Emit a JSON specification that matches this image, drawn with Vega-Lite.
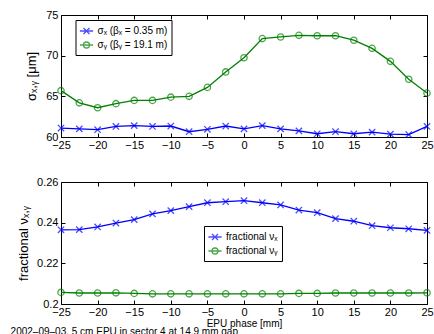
{
  "$schema": "https://vega.github.io/schema/vega-lite/v6.json",
  "background": "white",
  "padding": {"left": 10, "top": 9, "right": 0, "bottom": 0},
  "datasets": {
    "sigma": [
      {"phase": -25, "s": "x", "value": 61.1}, {"phase": -22.5, "s": "x", "value": 61.0}, {"phase": -20, "s": "x", "value": 60.9},
      {"phase": -17.5, "s": "x", "value": 61.3}, {"phase": -15, "s": "x", "value": 61.4}, {"phase": -12.5, "s": "x", "value": 61.3},
      {"phase": -10, "s": "x", "value": 61.35}, {"phase": -7.5, "s": "x", "value": 60.65}, {"phase": -5, "s": "x", "value": 60.95},
      {"phase": -2.5, "s": "x", "value": 61.35}, {"phase": 0, "s": "x", "value": 61.0}, {"phase": 2.5, "s": "x", "value": 61.4},
      {"phase": 5, "s": "x", "value": 61.0}, {"phase": 7.5, "s": "x", "value": 60.75}, {"phase": 10, "s": "x", "value": 60.4},
      {"phase": 12.5, "s": "x", "value": 60.65}, {"phase": 15, "s": "x", "value": 60.4}, {"phase": 17.5, "s": "x", "value": 60.6},
      {"phase": 20, "s": "x", "value": 60.35}, {"phase": 22.5, "s": "x", "value": 60.3}, {"phase": 25, "s": "x", "value": 61.3},
      {"phase": -25, "s": "y", "value": 65.7}, {"phase": -22.5, "s": "y", "value": 64.2}, {"phase": -20, "s": "y", "value": 63.6},
      {"phase": -17.5, "s": "y", "value": 64.1}, {"phase": -15, "s": "y", "value": 64.5}, {"phase": -12.5, "s": "y", "value": 64.5},
      {"phase": -10, "s": "y", "value": 64.9}, {"phase": -7.5, "s": "y", "value": 65.0}, {"phase": -5, "s": "y", "value": 66.1},
      {"phase": -2.5, "s": "y", "value": 68.0}, {"phase": 0, "s": "y", "value": 69.75}, {"phase": 2.5, "s": "y", "value": 72.1},
      {"phase": 5, "s": "y", "value": 72.3}, {"phase": 7.5, "s": "y", "value": 72.5}, {"phase": 10, "s": "y", "value": 72.45},
      {"phase": 12.5, "s": "y", "value": 72.45}, {"phase": 15, "s": "y", "value": 71.9}, {"phase": 17.5, "s": "y", "value": 70.9},
      {"phase": 20, "s": "y", "value": 69.3}, {"phase": 22.5, "s": "y", "value": 67.1}, {"phase": 25, "s": "y", "value": 65.4}
    ],
    "tune": [
      {"phase": -25, "s": "x", "value": 0.2365}, {"phase": -22.5, "s": "x", "value": 0.2366}, {"phase": -20, "s": "x", "value": 0.2379},
      {"phase": -17.5, "s": "x", "value": 0.2398}, {"phase": -15, "s": "x", "value": 0.2415}, {"phase": -12.5, "s": "x", "value": 0.2443},
      {"phase": -10, "s": "x", "value": 0.2459}, {"phase": -7.5, "s": "x", "value": 0.2479}, {"phase": -5, "s": "x", "value": 0.2498},
      {"phase": -2.5, "s": "x", "value": 0.2503}, {"phase": 0, "s": "x", "value": 0.2508}, {"phase": 2.5, "s": "x", "value": 0.2498},
      {"phase": 5, "s": "x", "value": 0.2487}, {"phase": 7.5, "s": "x", "value": 0.2462}, {"phase": 10, "s": "x", "value": 0.2449},
      {"phase": 12.5, "s": "x", "value": 0.2420}, {"phase": 15, "s": "x", "value": 0.2407}, {"phase": 17.5, "s": "x", "value": 0.2385},
      {"phase": 20, "s": "x", "value": 0.2375}, {"phase": 22.5, "s": "x", "value": 0.2370}, {"phase": 25, "s": "x", "value": 0.2362},
      {"phase": -25, "s": "y", "value": 0.2057}, {"phase": -22.5, "s": "y", "value": 0.2054}, {"phase": -20, "s": "y", "value": 0.2054},
      {"phase": -17.5, "s": "y", "value": 0.2055}, {"phase": -15, "s": "y", "value": 0.2052}, {"phase": -12.5, "s": "y", "value": 0.2050},
      {"phase": -10, "s": "y", "value": 0.2050}, {"phase": -7.5, "s": "y", "value": 0.2050}, {"phase": -5, "s": "y", "value": 0.2050},
      {"phase": -2.5, "s": "y", "value": 0.2050}, {"phase": 0, "s": "y", "value": 0.2050}, {"phase": 2.5, "s": "y", "value": 0.2050},
      {"phase": 5, "s": "y", "value": 0.2050}, {"phase": 7.5, "s": "y", "value": 0.2052}, {"phase": 10, "s": "y", "value": 0.2052},
      {"phase": 12.5, "s": "y", "value": 0.2054}, {"phase": 15, "s": "y", "value": 0.2054}, {"phase": 17.5, "s": "y", "value": 0.2054},
      {"phase": 20, "s": "y", "value": 0.2054}, {"phase": 22.5, "s": "y", "value": 0.2054}, {"phase": 25, "s": "y", "value": 0.2055}
    ]
  },
  "config": {
    "font": "Liberation Sans",
    "view": {"stroke": null},
    "axis": {
      "labelFont": "Liberation Sans", "labelFontSize": 11, "labelColor": "black",
      "titleFont": "Liberation Sans", "titleColor": "black", "titleFontWeight": "normal",
      "domainColor": "black", "domainWidth": 1, "tickColor": "black", "tickWidth": 1,
      "grid": false, "tickSize": -4, "labelFlush": false, "labelOverlap": false, "labelBound": false
    },
    "axisX": {"labelPadding": 6},
    "axisY": {"labelPadding": 7},
    "legend": {
      "labelFont": "Liberation Sans", "labelFontSize": 10, "labelColor": "black",
      "strokeColor": "black", "fillColor": "white", "padding": 4, "rowPadding": 1,
      "symbolSize": 144, "labelOffset": 4, "symbolStrokeWidth": 1.3
    }
  },
  "title": {
    "text": "2002–09–03, 5 cm EPU in sector 4 at 14.9 mm gap",
    "orient": "bottom", "anchor": "start", "frame": "bounds",
    "font": "Liberation Sans", "fontSize": 10, "fontWeight": "normal", "color": "black",
    "offset": -1, "dx": -7
  },
  "spacing": 45,
  "bounds": "flush",
  "resolve": {"scale": {"y": "independent", "color": "independent", "shape": "independent"}},
  "vconcat": [
    {
      "width": 366, "height": 122,
      "data": {"name": "sigma"},
      "resolve": {"axis": {"x": "independent", "y": "independent"}},
      "layer": [
        {
          "mark": {"type": "line", "strokeWidth": 1.3, "clip": false},
          "encoding": {
            "x": {"field": "phase", "type": "quantitative", "scale": {"domain": [-25, 25], "nice": false},
                  "axis": {"values": [-25, -20, -15, -10, -5, 0, 5, 10, 15, 20, 25], "title": null}},
            "y": {"field": "value", "type": "quantitative", "scale": {"domain": [60, 75], "nice": false, "zero": false},
                  "axis": {"values": [60, 65, 70, 75], "title": "σₓ,ᵧ [μm]", "titleFontSize": 13, "titlePadding": 7}},
            "color": {"field": "s", "type": "nominal", "scale": {"domain": ["x", "y"], "range": ["#0000ff", "#008000"]},
                      "legend": {"title": null, "orient": "none", "legendX": 14.5, "legendY": 5, "labelExpr": "datum.value == 'x' ? 'σₓ (βₓ = 0.35 m)' : 'σᵧ (βᵧ = 19.1 m)'"}}
          }
        },
        {
          "transform": [{"filter": "datum.s == 'x'"}],
          "mark": {"type": "point", "shape": "M-1,-1L1,1M-1,1L1,-1", "filled": false, "strokeWidth": 1.3, "size": 40, "clip": false},
          "encoding": {
            "x": {"field": "phase", "type": "quantitative",
                  "axis": {"orient": "top", "labels": false, "title": null, "values": [-25, -20, -15, -10, -5, 0, 5, 10, 15, 20, 25]}},
            "y": {"field": "value", "type": "quantitative",
                  "axis": {"orient": "right", "labels": false, "title": null, "values": [60, 65, 70, 75]}},
            "color": {"field": "s", "type": "nominal",
                      "legend": {"title": null, "orient": "none", "legendX": 14.5, "legendY": 5, "labelExpr": "datum.value == 'x' ? 'σₓ (βₓ = 0.35 m)' : 'σᵧ (βᵧ = 19.1 m)'"}}
          }
        },
        {
          "transform": [{"filter": "datum.s == 'y'"}],
          "mark": {"type": "point", "shape": "circle", "filled": false, "strokeWidth": 1.3, "size": 40, "clip": false},
          "encoding": {
            "x": {"field": "phase", "type": "quantitative", "axis": null},
            "y": {"field": "value", "type": "quantitative", "axis": null},
            "color": {"field": "s", "type": "nominal",
                      "legend": {"title": null, "orient": "none", "legendX": 14.5, "legendY": 5, "labelExpr": "datum.value == 'x' ? 'σₓ (βₓ = 0.35 m)' : 'σᵧ (βᵧ = 19.1 m)'"}}
          }
        },
        {
          "transform": [{"filter": "datum.s == 'none'"}],
          "mark": {"type": "point", "filled": false, "strokeWidth": 1.3, "clip": false},
          "encoding": {
            "x": {"field": "phase", "type": "quantitative", "axis": null},
            "y": {"field": "value", "type": "quantitative", "axis": null},
            "color": {"field": "s", "type": "nominal",
                      "legend": {"title": null, "orient": "none", "legendX": 14.5, "legendY": 5, "labelExpr": "datum.value == 'x' ? 'σₓ (βₓ = 0.35 m)' : 'σᵧ (βᵧ = 19.1 m)'"}},
            "shape": {"field": "s", "type": "nominal",
                      "scale": {"domain": ["x", "y"], "range": ["M-1.1,0H1.1M-0.5,-0.5L0.5,0.5M-0.5,0.5L0.5,-0.5", "M-1.1,0H1.1M0.5,0A0.5,0.5 0 1 1 -0.5,0A0.5,0.5 0 1 1 0.5,0"]},
                      "legend": {"title": null, "orient": "none", "legendX": 14.5, "legendY": 5, "labelExpr": "datum.value == 'x' ? 'σₓ (βₓ = 0.35 m)' : 'σᵧ (βᵧ = 19.1 m)'"}}
          }
        }
      ]
    },
    {
      "width": 366, "height": 122,
      "data": {"name": "tune"},
      "resolve": {"axis": {"x": "independent", "y": "independent"}},
      "layer": [
        {
          "mark": {"type": "line", "strokeWidth": 1.3, "clip": false},
          "encoding": {
            "x": {"field": "phase", "type": "quantitative", "scale": {"domain": [-25, 25], "nice": false},
                  "axis": {"values": [-25, -20, -15, -10, -5, 0, 5, 10, 15, 20, 25], "title": "EPU phase [mm]", "titleFontSize": 10, "titlePadding": 1}},
            "y": {"field": "value", "type": "quantitative", "scale": {"domain": [0.2, 0.26], "nice": false, "zero": false},
                  "axis": {"values": [0.2, 0.22, 0.24, 0.26], "format": "~g", "title": "fractional νₓ,ᵧ", "titleFontSize": 13, "titlePadding": 6}},
            "color": {"field": "s", "type": "nominal", "scale": {"domain": ["x", "y"], "range": ["#0000ff", "#008000"]},
                      "legend": {"title": null, "orient": "none", "legendX": 143, "legendY": 44, "labelExpr": "datum.value == 'x' ? 'fractional νₓ' : 'fractional νᵧ'"}}
          }
        },
        {
          "transform": [{"filter": "datum.s == 'x'"}],
          "mark": {"type": "point", "shape": "M-1,-1L1,1M-1,1L1,-1", "filled": false, "strokeWidth": 1.3, "size": 40, "clip": false},
          "encoding": {
            "x": {"field": "phase", "type": "quantitative",
                  "axis": {"orient": "top", "labels": false, "title": null, "values": [-25, -20, -15, -10, -5, 0, 5, 10, 15, 20, 25]}},
            "y": {"field": "value", "type": "quantitative",
                  "axis": {"orient": "right", "labels": false, "title": null, "values": [0.2, 0.22, 0.24, 0.26]}},
            "color": {"field": "s", "type": "nominal",
                      "legend": {"title": null, "orient": "none", "legendX": 143, "legendY": 44, "labelExpr": "datum.value == 'x' ? 'fractional νₓ' : 'fractional νᵧ'"}}
          }
        },
        {
          "transform": [{"filter": "datum.s == 'y'"}],
          "mark": {"type": "point", "shape": "circle", "filled": false, "strokeWidth": 1.3, "size": 40, "clip": false},
          "encoding": {
            "x": {"field": "phase", "type": "quantitative", "axis": null},
            "y": {"field": "value", "type": "quantitative", "axis": null},
            "color": {"field": "s", "type": "nominal",
                      "legend": {"title": null, "orient": "none", "legendX": 143, "legendY": 44, "labelExpr": "datum.value == 'x' ? 'fractional νₓ' : 'fractional νᵧ'"}}
          }
        },
        {
          "transform": [{"filter": "datum.s == 'none'"}],
          "mark": {"type": "point", "filled": false, "strokeWidth": 1.3, "clip": false},
          "encoding": {
            "x": {"field": "phase", "type": "quantitative", "axis": null},
            "y": {"field": "value", "type": "quantitative", "axis": null},
            "color": {"field": "s", "type": "nominal",
                      "legend": {"title": null, "orient": "none", "legendX": 143, "legendY": 44, "labelExpr": "datum.value == 'x' ? 'fractional νₓ' : 'fractional νᵧ'"}},
            "shape": {"field": "s", "type": "nominal",
                      "scale": {"domain": ["x", "y"], "range": ["M-1.1,0H1.1M-0.5,-0.5L0.5,0.5M-0.5,0.5L0.5,-0.5", "M-1.1,0H1.1M0.5,0A0.5,0.5 0 1 1 -0.5,0A0.5,0.5 0 1 1 0.5,0"]},
                      "legend": {"title": null, "orient": "none", "legendX": 143, "legendY": 44, "labelExpr": "datum.value == 'x' ? 'fractional νₓ' : 'fractional νᵧ'"}}
          }
        }
      ]
    }
  ]
}
